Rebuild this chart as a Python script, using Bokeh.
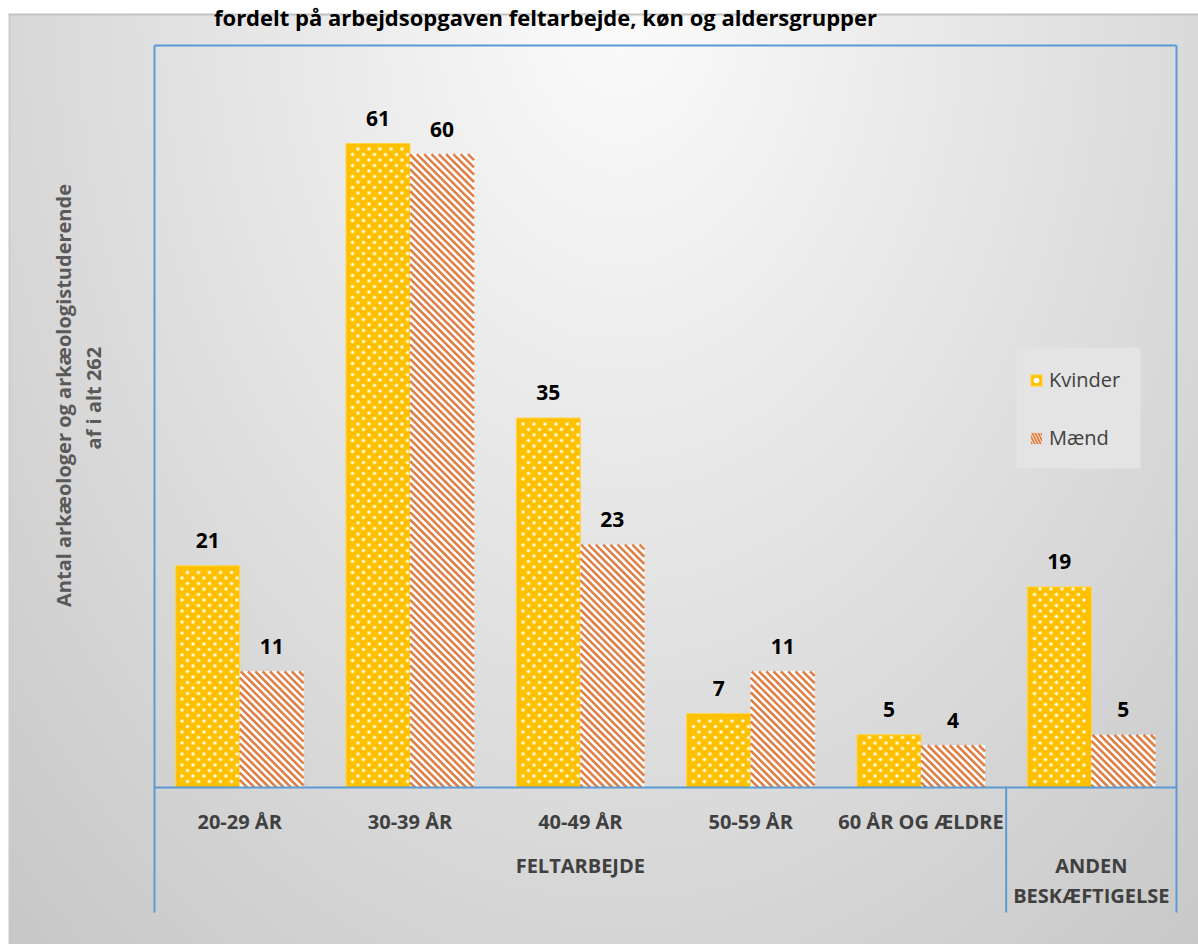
import numpy as np
from bokeh.plotting import figure
from bokeh.models import ColumnDataSource, Range1d, Legend, LegendItem
from bokeh.core.properties import value
from bokeh.embed import file_html
from bokeh.resources import INLINE

# ---------------- data ----------------
title_text = "fordelt på arbejdsopgaven feltarbejde, køn og aldersgrupper"
sub_labels = ["20-29 ÅR", "30-39 ÅR", "40-49 ÅR", "50-59 ÅR", "60 ÅR OG ÆLDRE", ""]
group_labels = ["FELTARBEJDE", "ANDEN\nBESKÆFTIGELSE"]
group_start = [0, 5]
group_end = [5, 6]
kvinder = [21, 61, 35, 7, 5, 19]
maend = [11, 60, 23, 11, 4, 5]
series_names = ["Kvinder", "Mænd"]
y_title_lines = ["Antal arkæologer og arkæologistuderende", "af  i alt 262"]

# ---------------- layout (screen pixels) ----------------
W, H, OFF = 1198, 944, 0
PLOT_L, PLOT_R, PLOT_T, BASE, AXIS_B = 154, 1176, 45, 787, 912
BOX_T = 13
n = len(kvinder)
PXX = (PLOT_R - PLOT_L) / n          # px per category
PXY = (BASE - 143) / 61.0            # px per unit

def dx(sx):
    return (np.asarray(sx, dtype=float) - PLOT_L) / PXX

def dy(sy):
    return (BASE - np.asarray(sy, dtype=float)) / PXY

def px(x):
    return PLOT_L + np.asarray(x, dtype=float) * PXX

def py(y):
    return BASE - np.asarray(y, dtype=float) * PXY

FONT = value("Open Sans")
BLUE = "#5b9bd5"
LBL = "#404040"
STRIPE = "#de8148"

p = figure(width=W, height=H,
           x_range=Range1d(float(dx(OFF)), float(dx(OFF + W))),
           y_range=Range1d(float(dy(OFF + H)), float(dy(OFF))),
           x_axis_type=None, y_axis_type=None,
           min_border=0, toolbar_location=None, output_backend="svg",
           background_fill_color="white", border_fill_color="white",
           outline_line_color=None)
p.grid.visible = False

# ---------------- background gradient ----------------
sx = OFF + np.arange(W) + 0.5
sy = np.arange(BOX_T, OFF + H) + 0.5
SX, SY = np.meshgrid(sx, sy)
d = np.sqrt(((SX - 620) / 700.0) ** 2 + (SY / 1000.0) ** 2)
v = np.clip(252 - 41 * d, 192, 255)
v[0:2, :] = 195
v[:, 8:10] = np.minimum(v[:, 8:10], 205)
v[:, 0:8] = 255
img = np.zeros((v.shape[0], v.shape[1]), dtype=np.uint32)
view = img.view(dtype=np.uint8).reshape(v.shape[0], v.shape[1], 4)
view[:, :, 0] = v.astype(np.uint8)
view[:, :, 1] = v.astype(np.uint8)
view[:, :, 2] = v.astype(np.uint8)
view[:, :, 3] = 255
img = img[::-1]
p.image_rgba(image=[img], x=float(dx(OFF)), y=float(dy(OFF + H)),
             dw=float(dx(OFF + W) - dx(OFF)), dh=float(dy(BOX_T) - dy(OFF + H)))

# ---------------- title ----------------
p.text(x=[float(dx(545))], y=[float(dy(1))], text=[title_text], text_font=FONT,
       text_font_style="bold", text_font_size="22px", text_color="black",
       text_align="center", text_baseline="top")

# ---------------- bars ----------------
idx = np.arange(n) + 0.5
bw = 64 / PXX
xk = idx - bw / 2
xm = idx + bw / 2
src = ColumnDataSource(dict(xk=xk, xm=xm, k=kvinder, m=maend,
                            kl=[str(x) for x in kvinder], ml=[str(x) for x in maend]))

# legend box
p.quad(left=[float(dx(1016))], right=[float(dx(1140))], top=[float(dy(347))],
       bottom=[float(dy(468))], fill_color="#e4e4e4", line_color=None)

rk = p.vbar(x="xk", top="k", bottom=0, width=bw, source=src,
            fill_color="#ffc000", line_color="#ffd54a", line_width=1)
rm = p.vbar(x="xm", top="m", bottom=0, width=bw, source=src,
            fill_color="white", line_color=None)

# dotted pattern inside the Kvinder bars (staggered lattice, derived from the bar values)
STEP = 5.5
dot_x, dot_y = [], []
for xc, val in zip(xk, kvinder):
    L, R = px(xc - bw / 2) + 2, px(xc + bw / 2) - 2
    T, B = py(val) + 2, py(0) - 1
    i0, i1 = int(np.ceil(L / STEP)), int(np.floor(R / STEP))
    j0, j1 = int(np.ceil(T / STEP)), int(np.floor(B / STEP))
    for j in range(j0, j1 + 1):
        for i in range(i0, i1 + 1):
            if (i + j) % 2 == 0:
                dot_x.append(float(dx(i * STEP)))
                dot_y.append(float(dy(j * STEP)))
dots = ColumnDataSource(dict(x=dot_x, y=dot_y))
r_halo = p.scatter(x="x", y="y", source=dots, size=4.2, fill_color="#fff2b0",
                   fill_alpha=0.7, line_color=None)
r_dot = p.scatter(x="x", y="y", source=dots, size=2.2, fill_color="white",
                  line_color=None)

# diagonal stripe pattern inside the Maend bars (45 degree lines, clipped to each bar)
PER = 7.3
s_x0, s_y0, s_x1, s_y1 = [], [], [], []
for xc, val in zip(xm, maend):
    L, R = px(xc - bw / 2), px(xc + bw / 2)
    T, B = py(val), py(0)
    k0 = int(np.floor((L - B) / PER)) - 1
    k1 = int(np.ceil((R - T) / PER)) + 1
    for kk in range(k0, k1 + 1):
        c = kk * PER             # line: sy = sx - c
        a = max(L, T + c)
        b = min(R, B + c)
        if b - a > 0.5:
            s_x0.append(float(dx(a))); s_y0.append(float(dy(a - c)))
            s_x1.append(float(dx(b))); s_y1.append(float(dy(b - c)))
stripes = ColumnDataSource(dict(x0=s_x0, y0=s_y0, x1=s_x1, y1=s_y1))
p.segment(x0="x0", y0="y0", x1="x1", y1="y1", source=stripes,
          line_color=STRIPE, line_width=2.6, line_cap="butt")

# legend-only swatch for Maend (hatched, zero height so nothing shows in the plot)
r_leg_m = p.vbar(x=[float(xm[0])], top=[0.0], bottom=[0.0], width=bw,
                 fill_color="white", line_color=None,
                 hatch_pattern="left_diagonal_line", hatch_color=STRIPE,
                 hatch_scale=6, hatch_weight=2)

for xcol, ycol, tcol in (("xk", "k", "kl"), ("xm", "m", "ml")):
    p.text(x=xcol, y=ycol, text=tcol, source=src, text_font=FONT, text_font_style="bold",
           text_font_size="21px", text_color="black", text_align="center",
           text_baseline="middle", y_offset=-25)

# ---------------- frame and category axis lines ----------------
x0, x1 = 0, n
p.segment(x0=[x0, x0, x1, x0, group_end[0]],
          y0=[float(dy(PLOT_T))] * 3 + [0, 0],
          x1=[x1, x0, x1, x1, group_end[0]],
          y1=[float(dy(PLOT_T)), float(dy(AXIS_B)), float(dy(AXIS_B)), 0, float(dy(AXIS_B))],
          line_color=BLUE, line_width=2)

# category labels
p.text(x=list(idx), y=[float(dy(821))] * n, text=sub_labels, text_font=FONT,
       text_font_style="bold", text_font_size="20px", text_color=LBL,
       text_align="center", text_baseline="middle")

# group labels (one text per line)
gxs, gys, gts = [], [], []
for a, b, lab in zip(group_start, group_end, group_labels):
    for j, line in enumerate(lab.split("\n")):
        gxs.append((a + b) / 2)
        gys.append(float(dy(865 + 30 * j)))
        gts.append(line)
p.text(x=gxs, y=gys, text=gts, text_font=FONT,
       text_font_style="bold", text_font_size="20px", text_color=LBL,
       text_align="center", text_baseline="middle")

# y-axis title
p.text(x=[float(dx(63)), float(dx(93))], y=[float(dy(395))] * 2, text=y_title_lines,
       text_font=FONT, text_font_style="bold", text_font_size="20px",
       text_color="#595959", text_align="center", text_baseline="middle",
       angle=np.pi / 2)

# ---------------- legend ----------------
legend = Legend(items=[LegendItem(label=series_names[0], renderers=[rk, r_halo, r_dot]),
                       LegendItem(label=series_names[1], renderers=[r_leg_m])],
                location=(1029, H - 468 + 17), margin=0, padding=16, spacing=31,
                glyph_width=14, glyph_height=14, label_standoff=6, label_height=26,
                label_text_font="Open Sans", label_text_font_size="20px",
                label_text_color=LBL, background_fill_alpha=0,
                border_line_color=None)
p.add_layout(legend, "center")

open("out.html", "w").write(file_html(p, INLINE))
